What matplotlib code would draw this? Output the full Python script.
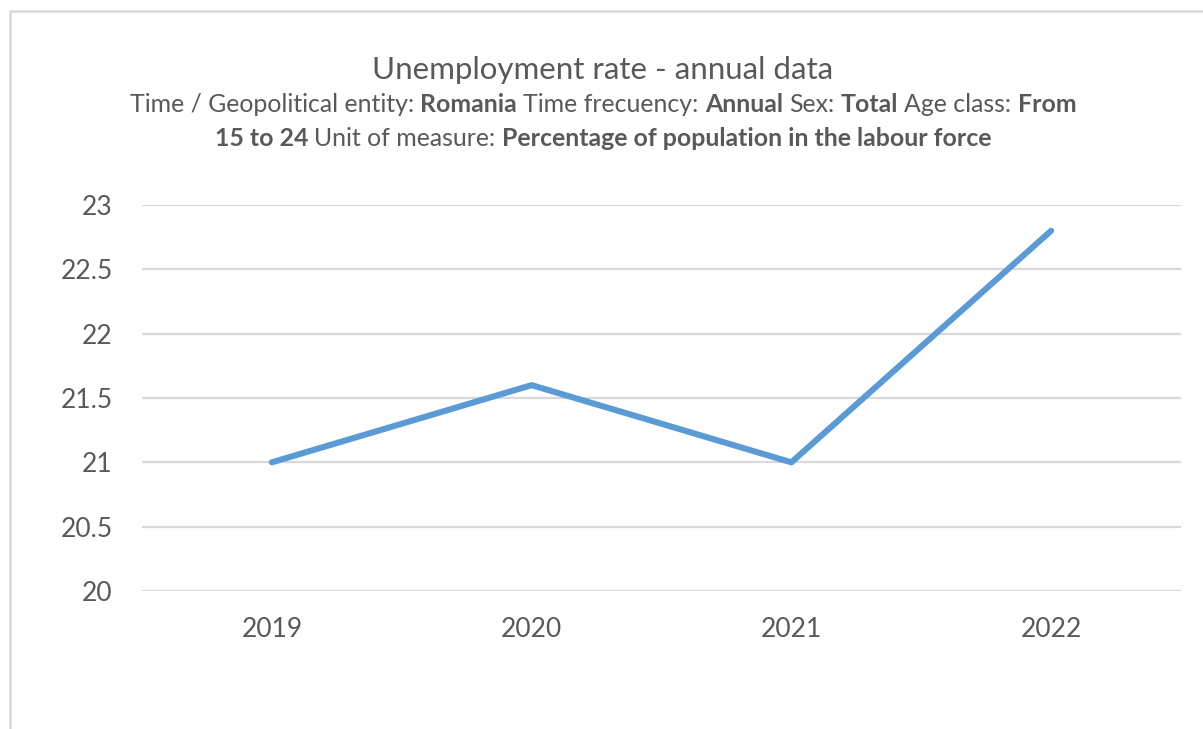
import matplotlib.pyplot as plt
from matplotlib.patches import Rectangle
from matplotlib.transforms import IdentityTransform

years = ['2019', '2020', '2021', '2022']
rate = [21.0, 21.6, 21.0, 22.8]
yticks = [20, 20.5, 21, 21.5, 22, 22.5, 23]
title = 'Unemployment rate - annual data'
sub_line1 = [('Time / Geopolitical entity:', 'normal'), ('Romania', 'bold'),
             ('Time frecuency:', 'normal'), ('Annual', 'bold'),
             ('Sex:', 'normal'), ('Total', 'bold'),
             ('Age class:', 'normal'), ('From', 'bold')]
sub_line2 = [('15 to 24', 'bold'), ('Unit of measure:', 'normal'),
             ('Percentage of population in the labour force', 'bold')]

txt = '#595959'
grid = '#d9d9d9'
plt.rcParams['font.family'] = ['Lato', 'DejaVu Sans']

W, H = 1203, 729
fig = plt.figure(figsize=(W / 100, H / 100), dpi=100)
ax = fig.add_axes([142 / W, 1 - 591 / H, (1181 - 142) / W, (591 - 205) / H])

ax.plot(range(len(years)), rate, color='#5b9bd5', lw=4.4,
        solid_capstyle='round', solid_joinstyle='round', zorder=3)

ax.set_xlim(-0.5, len(years) - 0.5)
ax.set_ylim(20, 23)
ax.set_yticks(yticks)
ax.set_yticklabels(['%g' % v for v in yticks])
ax.set_xticks(range(len(years)))
ax.set_xticklabels(years)
ax.tick_params(length=0, labelsize=19, labelcolor=txt)
ax.tick_params(axis='y', pad=21)
ax.tick_params(axis='x', pad=19)
ax.grid(axis='y', color=grid, lw=1.6)
ax.set_axisbelow(True)
for s in ax.spines.values():
    s.set_visible(False)

# chart border (only left/top visible in the crop)
fig.add_artist(Rectangle((10, -20), 1300, H - 11 + 20, transform=IdentityTransform(),
                         fill=False, ec=grid, lw=1.8))

fig.text(603 / W, 1 - 79 / H, title, ha='center', va='baseline',
         fontsize=22.5, color=txt)

r = fig.canvas.get_renderer()


def width_of(s, size, weight):
    t = fig.text(0, 0, s, fontsize=size, fontweight=weight)
    w = t.get_window_extent(renderer=r).width
    t.remove()
    return w


def rich_line(pieces, cx, base_y, size):
    gap = width_of('x x', size, 'normal') - width_of('xx', size, 'normal')
    ws = [width_of(s, size, wt) for s, wt in pieces]
    total = sum(ws) + gap * (len(pieces) - 1)
    x = cx - total / 2
    for (s, wt), w in zip(pieces, ws):
        fig.text(x, H - base_y, s, transform=IdentityTransform(), fontsize=size,
                 fontweight=wt, color=txt, va='baseline')
        x += w + gap


rich_line(sub_line1, 603, 112, 17.9)
rich_line(sub_line2, 603, 146, 17.9)

fig.savefig('out.png', dpi=100)
